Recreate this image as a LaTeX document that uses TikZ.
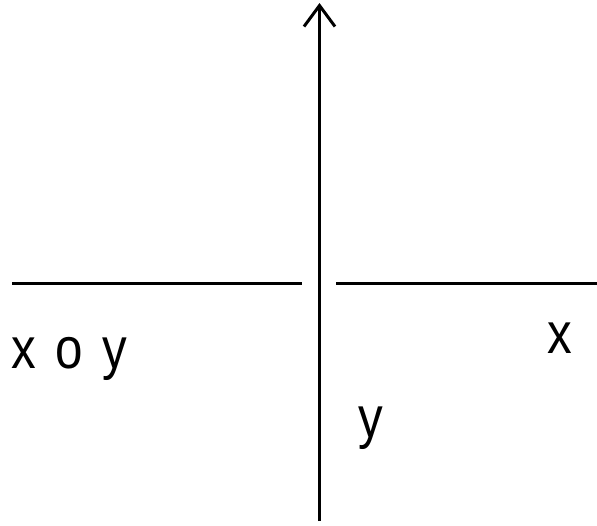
\documentclass[tikz,border=0pt]{standalone}
\usepackage{fontspec}
\setmainfont{Liberation Sans}
\usetikzlibrary{arrows.meta}

\begin{document}
\begin{tikzpicture}[
  x=1pt, y=-1pt,
  axis/.style={line width=3pt, black},
  lbl/.style={inner sep=0pt, anchor=base, font=\fontsize{58}{60}\selectfont, xscale=0.85},
]

% Frame
\useasboundingbox (0,0) rectangle (597,525);

% Axis ends
\coordinate (ytop) at (319.5,3);
\coordinate (ybot) at (319.5,521);
\coordinate (xl1) at (12,283.5);
\coordinate (xl2) at (302,283.5);
\coordinate (xr1) at (336,283.5);
\coordinate (xr2) at (597,283.5);

% Vertical axis with open tip
\draw[axis, -{Straight Barb[length=21pt, width=31pt]}] (ybot) -- (ytop);

% Horizontal axis, broken at the crossing
\draw[axis] (xl1) -- (xl2);
\draw[axis] (xr1) -- (xr2);

% Labels
\node[lbl, anchor=base west] (plane) at (11,368) {x\hspace{7pt} o\hspace{7pt} y};
\node[lbl] (xlabel) at (560,353) {x};
\node[lbl] (ylabel) at (371,437) {y};

\end{tikzpicture}
\end{document}
